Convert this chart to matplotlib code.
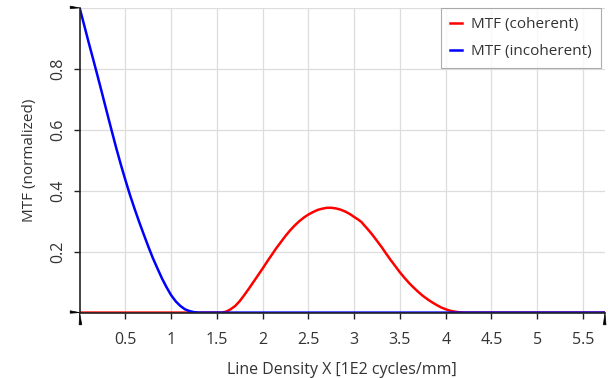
import matplotlib.pyplot as plt
from matplotlib.patches import Polygon

# incoherent MTF
x_inc = [0.0, 0.05, 0.1, 0.15, 0.2, 0.25, 0.3, 0.35, 0.4, 0.45, 0.5, 0.55, 0.6, 0.65,
         0.7, 0.75, 0.8, 0.85, 0.9, 0.95, 1.0, 1.05, 1.1, 1.15, 1.2, 1.25, 1.3, 5.74]
mtf_inc = [1.0, 0.943, 0.885, 0.829, 0.772, 0.714, 0.655, 0.597, 0.54, 0.486, 0.435,
           0.386, 0.341, 0.298, 0.257, 0.217, 0.179, 0.145, 0.112, 0.083, 0.057, 0.037,
           0.022, 0.011, 0.005, 0.0015, 0.0, 0.0]

# coherent MTF
x_coh = [0.0, 1.55, 1.6, 1.65, 1.7, 1.75, 1.8, 1.85, 1.9, 1.95, 2.0, 2.05, 2.1, 2.15,
         2.2, 2.25, 2.3, 2.35, 2.4, 2.45, 2.5, 2.55, 2.6, 2.65, 2.7, 2.75, 2.8, 2.85,
         2.9, 2.95, 3.0, 3.05, 3.08, 3.1, 3.15, 3.2, 3.25, 3.3, 3.35, 3.4, 3.45, 3.5,
         3.55, 3.6, 3.65, 3.7, 3.75, 3.8, 3.85, 3.9, 3.95, 4.0, 4.05, 4.1, 4.15, 4.2, 5.74]
mtf_coh = [0.0, 0.0, 0.003, 0.011, 0.022, 0.038, 0.058, 0.079, 0.101, 0.123, 0.145,
           0.168, 0.19, 0.212, 0.232, 0.252, 0.27, 0.286, 0.30, 0.312, 0.322, 0.33,
           0.337, 0.341, 0.344, 0.344, 0.342, 0.338, 0.332, 0.324, 0.314, 0.304, 0.297,
           0.29, 0.273, 0.255, 0.235, 0.215, 0.193, 0.172, 0.152, 0.132, 0.114, 0.097,
           0.082, 0.068, 0.055, 0.044, 0.034, 0.025, 0.017, 0.011, 0.006, 0.003, 0.001,
           0.0, 0.0]

xticks = [0.5, 1, 1.5, 2, 2.5, 3, 3.5, 4, 4.5, 5, 5.5]
xticklabels = ['0.5', '1', '1.5', '2', '2.5', '3', '3.5', '4', '4.5', '5', '5.5']
yticks = [0.2, 0.4, 0.6, 0.8]
yticklabels = ['0.2', '0.4', '0.6', '0.8']

plt.rcParams['font.family'] = ['Open Sans', 'DejaVu Sans']
txt = '#333333'

fig = plt.figure(figsize=(6.08, 3.78), dpi=100)
ax = fig.add_axes([0.131, 0.173, 0.864, 0.806])

ax.plot(x_coh, mtf_coh, color='#ff0000', lw=1.8, label='MTF (coherent)',
        solid_joinstyle='round')
ax.plot(x_inc, mtf_inc, color='#0000ff', lw=1.8, label='MTF (incoherent)',
        solid_joinstyle='round')

ax.set_xlim(0, 5.74)
ax.set_ylim(0, 1.0)
ax.set_xticks(xticks)
ax.set_xticklabels(xticklabels)
ax.set_yticks(yticks)
ax.set_yticklabels(yticklabels, rotation=90, va='center')
ax.tick_params(axis='both', colors='#222222', labelcolor=txt, labelsize=11.5,
               length=4, width=1, direction='out')
ax.tick_params(axis='x', pad=10)
ax.tick_params(axis='y', pad=6)

ax.grid(True, color='#dddddd', lw=0.9)
ax.axhline(1.0, color='#dddddd', lw=0.9, zorder=0)
ax.set_axisbelow(True)

for s in ['top', 'right']:
    ax.spines[s].set_visible(False)
for s in ['left', 'bottom']:
    ax.spines[s].set_color('#222222')
    ax.spines[s].set_linewidth(1.2)

ax.set_xlabel('Line Density X [1E2 cycles/mm]', fontsize=11.5, color=txt, labelpad=10)
ax.set_ylabel('MTF (normalized)', fontsize=11, color=txt, labelpad=9)

# small wedge decorations at the axis ends
tr = ax.transAxes
w = [
    [(0, 1), (-0.018, 1.006), (-0.018, 0.998)],
    [(0, 0), (-0.018, 0.006), (-0.018, -0.002)],
    [(0, 0), (-0.001, -0.04), (0.004, -0.04)],
    [(1.0, 0), (0.997, -0.04), (1.002, -0.04)],
]
for pts in w:
    ax.add_patch(Polygon(pts, closed=True, transform=tr, color='black',
                         clip_on=False, lw=0.5))

leg = ax.legend(loc='upper right', bbox_to_anchor=(0.992, 1.0), fontsize=11,
                frameon=True, fancybox=False, handlelength=0.75, handletextpad=0.6,
                borderpad=0.6, labelspacing=0.8, borderaxespad=0)
leg.get_frame().set_edgecolor('#999999')
leg.get_frame().set_linewidth(0.8)
for t in leg.get_texts():
    t.set_color(txt)

fig.savefig('out.png', dpi=100)
